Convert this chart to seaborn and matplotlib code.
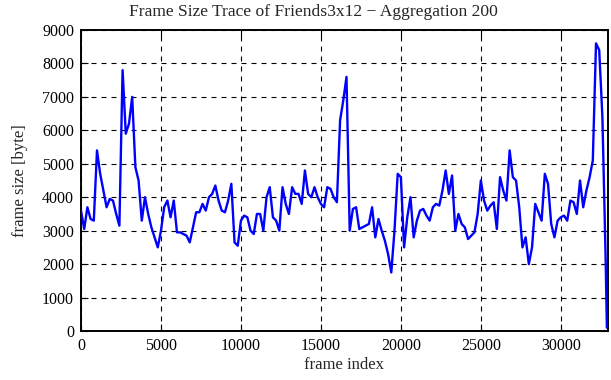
import numpy as np
import pandas as pd
import matplotlib
matplotlib.use("Agg")
import matplotlib.pyplot as plt
import seaborn as sns

# frame size per aggregation window of 200 frames
sizes = [
    3600, 3050, 3700, 3350, 3300, 5400, 4700, 4200, 3700, 3950,
    3900, 3500, 3150, 7800, 5900, 6200, 7000, 4900, 4500, 3300,
    4000, 3500, 3100, 2800, 2500, 3000, 3700, 3900, 3400, 3900,
    2950, 2950, 2900, 2850, 2650, 3100, 3550, 3550, 3800, 3600,
    4000, 4100, 4350, 3900, 3600, 3550, 3900, 4400, 2650, 2550,
    3300, 3450, 3400, 3000, 2900, 3500, 3500, 3000, 4000, 4300,
    3400, 3300, 3000, 4300, 3800, 3500, 4300, 4100, 4100, 3800,
    4800, 4100, 4000, 4300, 4000, 3800, 3700, 4300, 4250, 4000,
    3850, 6300, 6900, 7600, 3000, 3650, 3700, 3050, 3100, 3150,
    3200, 3700, 2800, 3350, 3000, 2700, 2300, 1750, 3000, 4700,
    4600, 2500, 3400, 4000, 2800, 3300, 3600, 3650, 3450, 3300,
    3700, 3800, 3750, 4200, 4800, 4100, 4650, 3000, 3500, 3200,
    3100, 2750, 2850, 2950, 3500, 4500, 3900, 3600, 3750, 3850,
    3050, 4600, 4200, 3900, 5400, 4600, 4500, 3700, 2500, 2800,
    2000, 2500, 3800, 3550, 3300, 4700, 4400, 3200, 2800, 3300,
    3400, 3450, 3300, 3900, 3850, 3500, 4500, 3700, 4200, 4600,
    5100, 8600, 8400, 6400, 2200, 300, 100,
]
agg = 200
frames = np.arange(len(sizes)) * agg
frames[-1] = 32880

df = pd.DataFrame({"frame index": frames, "frame size [byte]": sizes})

title = "Frame Size Trace of Friends3x12 \u2212 Aggregation 200"
x_ticks = [0, 5000, 10000, 15000, 20000, 25000, 30000]
y_ticks = [0, 1000, 2000, 3000, 4000, 5000, 6000, 7000, 8000, 9000]

sns.set_style("ticks")
plt.rcParams["font.family"] = ["Liberation Serif", "DejaVu Serif"]

fig = plt.figure(figsize=(6.11, 3.80), dpi=100)
ax = fig.add_axes([81 / 611, 1 - 331 / 380, (608 - 81) / 611, 301 / 380])

sns.lineplot(data=df, x="frame index", y="frame size [byte]", ax=ax,
             color="#0000ff", linewidth=1.7, zorder=3)

ax.set_xlim(0, 32950)
ax.set_ylim(0, 9000)
ax.set_xticks(x_ticks)
ax.set_yticks(y_ticks)
ax.set_xticklabels([str(v) for v in x_ticks])
ax.set_yticklabels([str(v) for v in y_ticks])
ax.grid(True, color="black", linestyle=(0, (4.5, 4.5)), linewidth=0.8, zorder=1)
ax.tick_params(direction="in", top=True, right=True, length=5, width=0.8,
               labelsize=11.5, pad=5, colors="black")
for s in ax.spines.values():
    s.set_linewidth(1.4)
    s.set_color("black")

fig.text(313 / 611, 1 - 12 / 380, title, fontsize=12.6, ha="center", va="center")
ax.set_xlabel("frame index", fontsize=12, labelpad=2)
ax.set_ylabel("frame size [byte]", fontsize=12, labelpad=10)

fig.savefig("out.png", dpi=100)
